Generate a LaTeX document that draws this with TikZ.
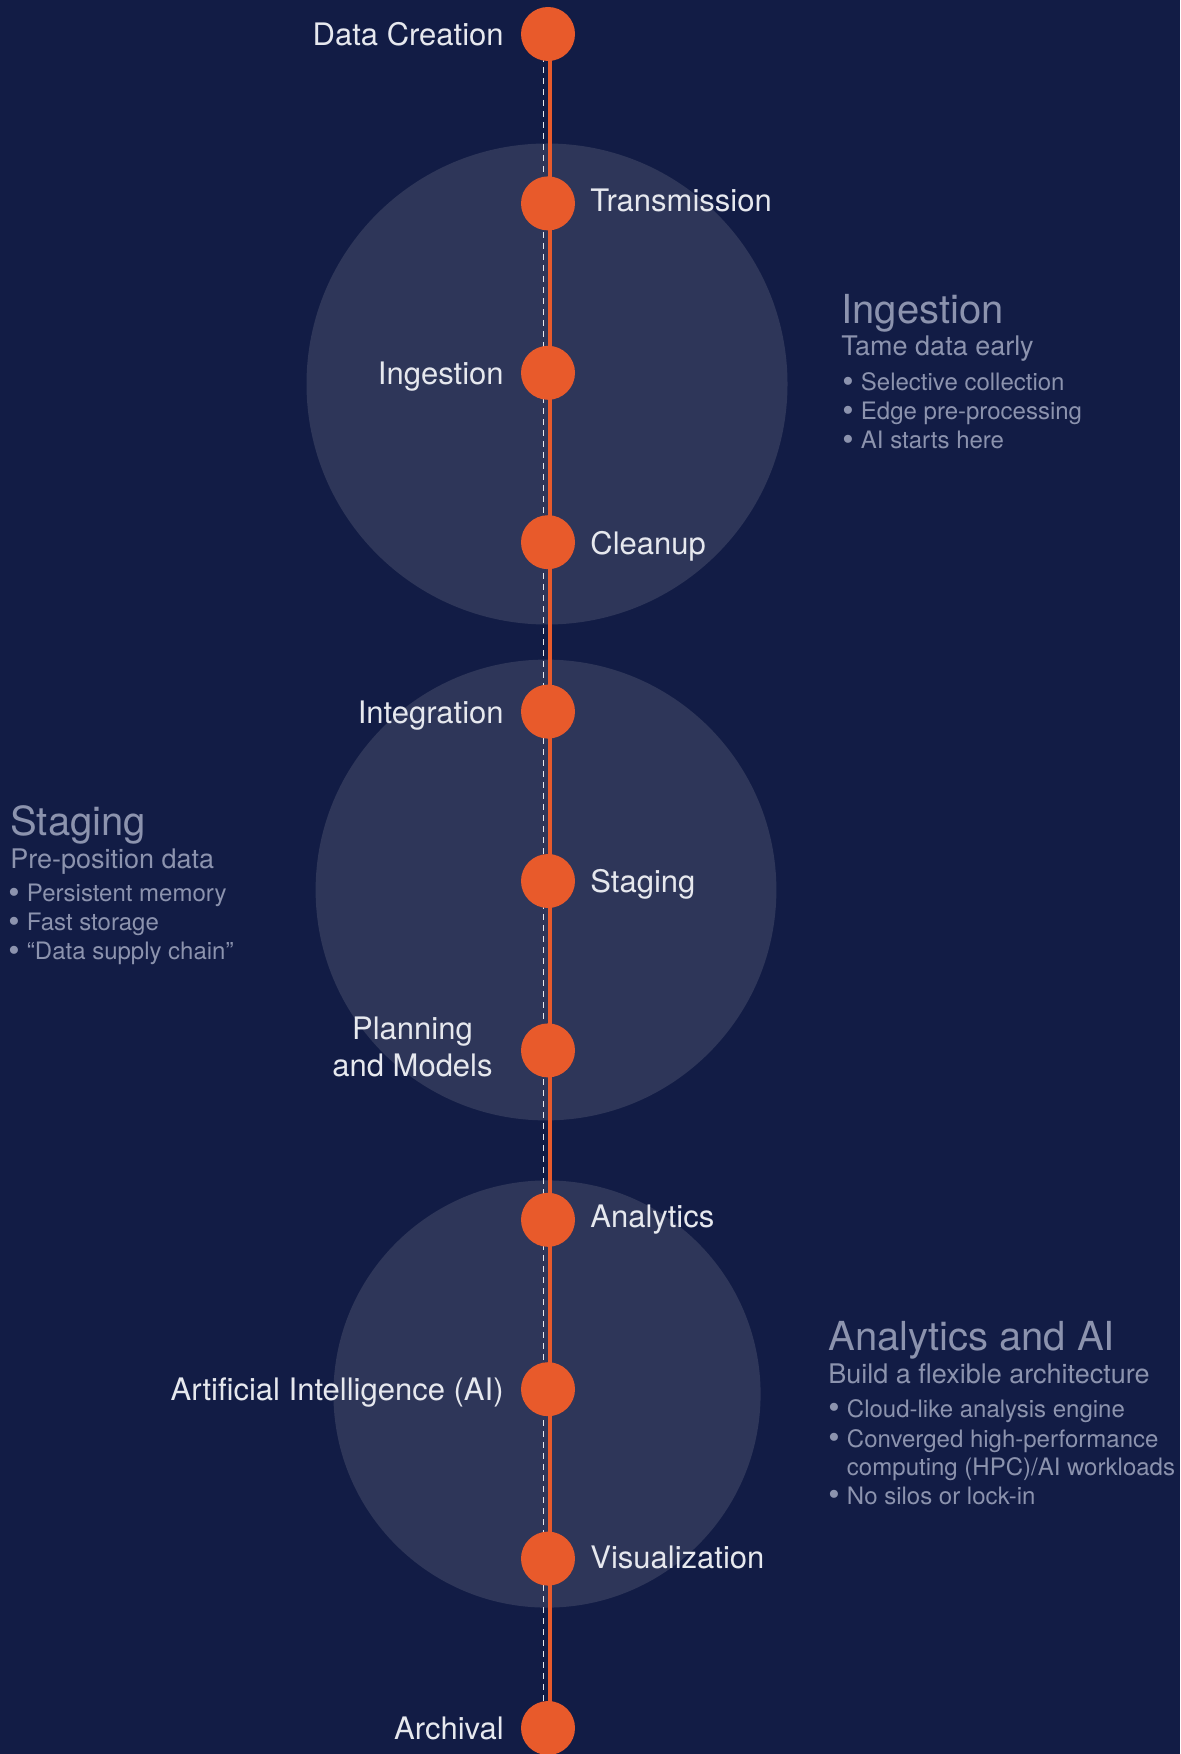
\documentclass[tikz,border=0pt]{standalone}
\usepackage{fontspec}
\setmainfont{TeX Gyre Heros}
\usetikzlibrary{positioning,backgrounds}

\definecolor{navy}{HTML}{121C45}
\definecolor{phase}{HTML}{2E3659}
\definecolor{dotorange}{HTML}{E85A2B}
\definecolor{labelwhite}{HTML}{E6E8EE}
\definecolor{notegray}{HTML}{8C93AE}

\pgfdeclarelayer{back}
\pgfsetlayers{back,background,main}

\newcommand{\bul}{\raisebox{-0.08em}{\scalebox{1.35}{\textbullet}}\hspace{0.3em}}

\tikzset{
    stage/.style={circle,fill=dotorange,minimum size=27pt,inner sep=0pt},
    lbl/.style={text=labelwhite,inner sep=0pt,font=\fontsize{15.5}{18.5}\selectfont},
    head/.style={text=notegray,inner sep=0pt,anchor=base west,font=\fontsize{20}{24}\selectfont},
    subhead/.style={text=notegray,inner sep=0pt,anchor=base west,font=\fontsize{13.5}{16}\selectfont},
    item/.style={text=notegray,inner sep=0pt,anchor=base west,font=\fontsize{12}{14.5}\selectfont},
    spine/.style={dotorange,line width=1.6pt},
    trail/.style={labelwhite,line width=0.6pt,dash pattern=on 3pt off 2.5pt}
}

\begin{document}
\begin{tikzpicture}[x=0.5pt,y=-0.5pt]
    \begin{pgfonlayer}{back}
        \fill[navy] (0,0) rectangle (1180,1754);
        \fill[phase] (547,384) circle[radius=120.25pt];
        \fill[phase] (546,890) circle[radius=115.2pt];
        \fill[phase] (547,1394) circle[radius=106.8pt];
    \end{pgfonlayer}
    \useasboundingbox (0,0) rectangle (1180,1754);

    \foreach \i in {0,...,10}
    {
        \node[stage] (d\i) at (548,34+\i*169.4) {};
    };

    \begin{pgfonlayer}{background}
        \draw[trail] ([xshift=-2.15pt]d0.center) -- ([xshift=-2.15pt]d10.center);
        \draw[spine] ([xshift=1pt]d0.center) -- ([xshift=1pt]d10.center);
    \end{pgfonlayer}

    \foreach \i/\t in {0/Data Creation,2/Ingestion,4/Integration,8/Artificial Intelligence (AI),10/Archival}
    {
        \node[lbl,anchor=base east] (l\i) at (504,45.5+\i*169.4) {\t};
    };
    \foreach \i/\dy/\t in {1/8.5/Transmission,3/12.5/Cleanup,5/11/Staging,7/7.5/Analytics,9/10/Visualization}
    {
        \node[lbl,anchor=base west] (l\i) at (590,34+\dy+\i*169.4) {\t};
    };
    \node[lbl,anchor=east,align=center] (l6) at (493,1047) {Planning\\and Models};

    % ingestion
    \node[head] (hIngest) at (841,324) {Ingestion};
    \node[subhead] (sIngest) at (841,356) {Tame data early};
    \foreach \t [count=\k] in {Selective collection,Edge pre-processing,AI starts here}
    {
        \node[item] (bIngest\k) at (842,362+\k*29) {\bul\t};
    };

    % staging
    \node[head] (hStage) at (10,835) {Staging};
    \node[subhead] (sStage) at (10,868) {Pre-position data};
    \foreach \t [count=\k] in {Persistent memory,Fast storage,“Data supply chain”}
    {
        \node[item] (bStage\k) at (8,872+\k*29.3) {\bul\t};
    };

    % analytics
    \node[head] (hAna) at (828,1350) {Analytics and AI};
    \node[subhead] (sAna) at (828,1383) {Build a flexible architecture};
    \node[item] (bAna1) at (828,1417) {\bul Cloud-like analysis engine};
    \node[item] (bAna2) at (828,1447) {\bul Converged high-performance};
    \node[item] (bAna3) at (828,1475) {\phantom{\bul}computing (HPC)/AI workloads};
    \node[item] (bAna4) at (828,1504) {\bul No silos or lock-in};
\end{tikzpicture}
\end{document}
